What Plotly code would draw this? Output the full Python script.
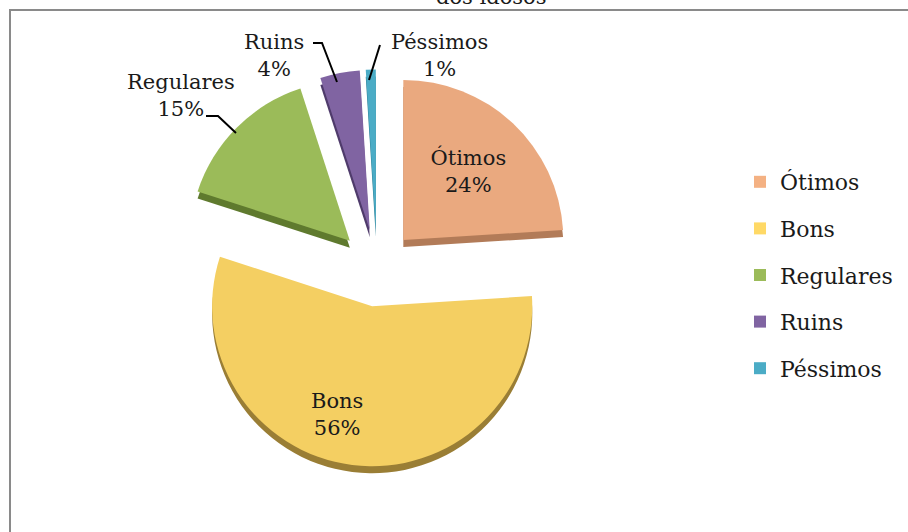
import plotly.graph_objects as go

categories = ["Ótimos", "Bons", "Regulares", "Ruins", "Péssimos"]
values = [24, 56, 15, 4, 1]
top_colors = ["#EAA97F", "#F4CF62", "#9BBB59", "#8064A2", "#4BACC6"]
side_colors = ["#B27B58", "#9A7E35", "#5F7A2E", "#4F3B6B", "#2E7F94"]
legend_colors = ["#F4B183", "#FFD966", "#9BBB59", "#8064A2", "#4BACC6"]
text_pos = ["inside", "none", "none", "none", "none"]
title_text = "dos idosos"

W, H = 908, 532
FONT = "DejaVu Serif"
FS = 21
LFS = 22


def px(x, y):
    return x / W, 1 - y / H


pull = [0.24] * len(values)
dom_x = [0.1966, 0.6338]
dom_y = [0.1231, 0.8693]
depth = 7 / H

fig = go.Figure()

# depth (side) layer of the pie
fig.add_trace(go.Pie(
    labels=categories, values=values, sort=False, direction="clockwise",
    rotation=0, pull=pull, marker=dict(colors=side_colors, line=dict(width=0)),
    textinfo="none", hoverinfo="skip", showlegend=False,
    domain=dict(x=dom_x, y=[dom_y[0] - depth, dom_y[1] - depth]),
))

# top surface
fig.add_trace(go.Pie(
    labels=categories, values=values, sort=False, direction="clockwise",
    rotation=0, pull=pull, marker=dict(colors=top_colors, line=dict(width=0)),
    texttemplate="%{label}<br>%{value}%", textposition=text_pos,
    insidetextorientation="horizontal",
    textfont=dict(family=FONT, size=FS, color="#1a1a1a"),
    showlegend=False, domain=dict(x=dom_x, y=dom_y),
))

# legend entries
for i, (c, col) in enumerate(zip(categories, legend_colors)):
    fig.add_trace(go.Scatter(
        x=[None], y=[None], mode="markers", name=c, legendgroup=c,
        marker=dict(symbol="square", size=12, color=col),
        showlegend=True, hoverinfo="skip",
    ))

# labels placed as annotations
label_pos = {1: (337, 414), 2: (181, 95), 3: (274, 55), 4: (439, 55)}
for i, (lx, ly) in label_pos.items():
    ax_, ay_ = px(lx, ly)
    fig.add_annotation(
        x=ax_, y=ay_, xref="paper", yref="paper", showarrow=False,
        xanchor="center", yanchor="middle",
        text=f"{categories[i]}<br>{values[i]}%", align="center",
        font=dict(family=FONT, size=FS, color="#1a1a1a"),
    )

# leader lines
leaders = [
    [(206, 116), (218, 116), (236, 133)],
    [(313, 43), (322, 43), (337, 82)],
    [(380, 45), (369, 80)],
]
for pts in leaders:
    path = ""
    for k, (x, y) in enumerate(pts):
        X, Y = px(x, y)
        path += ("M" if k == 0 else " L") + f" {X} {Y}"
    fig.add_shape(type="path", path=path, xref="paper", yref="paper",
                  line=dict(color="#000000", width=2))

# chart border
bx0, by0 = px(10, 10)
bx1, by1 = px(930, 560)
fig.add_shape(type="rect", xref="paper", yref="paper",
              x0=bx0, y0=by1, x1=bx1, y1=by0,
              line=dict(color="#8a8a8a", width=2), layer="below")

# title (cut at the top)
tx, ty = px(491, 11)
fig.add_annotation(x=tx, y=ty, xref="paper", yref="paper",
                   xanchor="center", yanchor="bottom",
                   showarrow=False, text=title_text,
                   font=dict(family=FONT, size=FS, color="#1a1a1a"))

lx, ly = px(740, 161)
fig.update_layout(
    width=W, height=H, margin=dict(l=0, r=0, t=0, b=0),
    paper_bgcolor="white", plot_bgcolor="white",
    xaxis=dict(visible=False), yaxis=dict(visible=False),
    legend=dict(x=lx, y=ly, xanchor="left", yanchor="top",
                font=dict(family=FONT, size=LFS, color="#1a1a1a"),
                tracegroupgap=15, bgcolor="rgba(0,0,0,0)",
                itemclick=False, itemdoubleclick=False),
    font=dict(family=FONT, size=FS),
)

fig.write_html("out.html",
               config={"displayModeBar": False},
               post_script="document.body.style.margin='0';")
